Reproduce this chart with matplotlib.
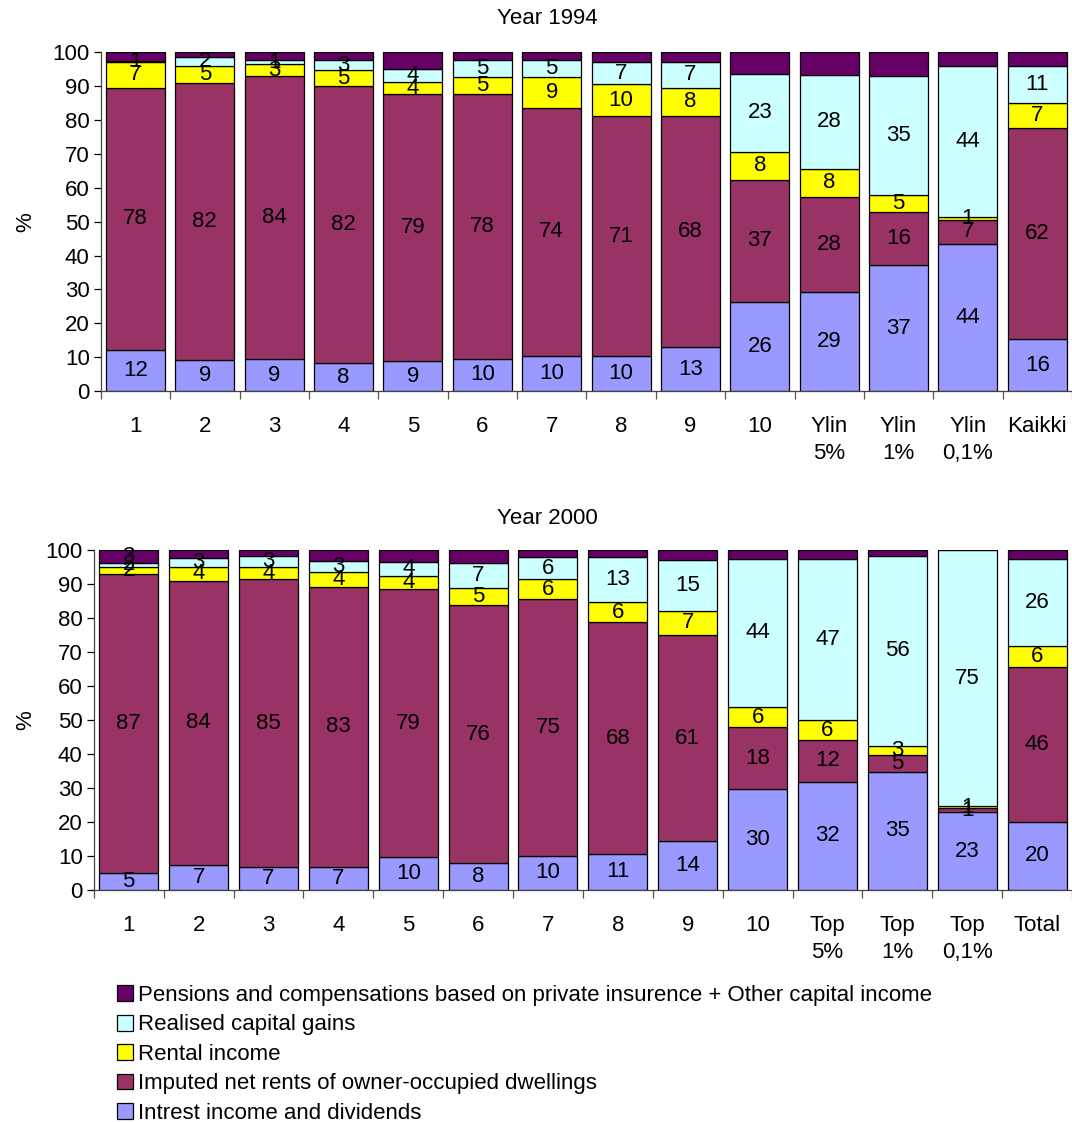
import numpy as np
import matplotlib
matplotlib.use("Agg")
import matplotlib.pyplot as plt
from matplotlib.patches import Patch

plt.rcParams["font.family"] = ["Liberation Sans", "DejaVu Sans"]
plt.rcParams["font.size"] = 16

# ======================
# Data (share of capital income, %)
# ======================
cats_1994 = ["1", "2", "3", "4", "5", "6", "7", "8", "9", "10",
             "Ylin\n5%", "Ylin\n1%", "Ylin\n0,1%", "Kaikki"]
cats_2000 = ["1", "2", "3", "4", "5", "6", "7", "8", "9", "10",
             "Top\n5%", "Top\n1%", "Top\n0,1%", "Total"]

series_names = [
    "Intrest income and dividends",
    "Imputed net rents of owner-occupied dwellings",
    "Rental income",
    "Realised capital gains",
    "Pensions and compensations based on private insurence + Other capital income",
]
colors = ["#9999FF", "#993366", "#FFFF00", "#CCFFFF", "#660066"]

# 1994 segment heights
interest_1994 = [12.2, 9.1, 9.4, 8.2, 8.8, 9.5, 10.3, 10.3, 12.9, 26.2, 29.1, 37.1, 43.5, 15.3]
imputed_1994 = [77.4, 81.7, 83.5, 81.8, 78.8, 78.1, 73.3, 70.9, 68.3, 36.2, 28.3, 15.8, 7.0, 62.4]
rental_1994 = [7.4, 5.2, 3.5, 4.7, 3.7, 5.0, 9.0, 9.3, 8.4, 8.2, 8.2, 5.0, 1.0, 7.3]
gains_1994 = [0.4, 2.6, 1.2, 2.9, 3.9, 5.0, 5.0, 6.6, 7.5, 23.1, 27.8, 35.0, 44.4, 10.9]
pension_1994 = [2.6, 1.4, 2.4, 2.4, 4.8, 2.4, 2.4, 2.9, 2.9, 6.3, 6.6, 7.1, 4.1, 4.1]

# 1994 data labels as printed ("" = no label)
lab_interest_1994 = ["12", "9", "9", "8", "9", "10", "10", "10", "13", "26", "29", "37", "44", "16"]
lab_imputed_1994 = ["78", "82", "84", "82", "79", "78", "74", "71", "68", "37", "28", "16", "7", "62"]
lab_rental_1994 = ["7", "5", "3", "5", "4", "5", "9", "10", "8", "8", "8", "5", "1", "7"]
lab_gains_1994 = ["1", "2", "1", "3", "4", "5", "5", "7", "7", "23", "28", "35", "44", "11"]
lab_pension_1994 = [""] * 14

# 2000 segment heights
interest_2000 = [5.0, 7.4, 6.8, 6.8, 9.7, 7.9, 10.0, 10.6, 14.4, 29.7, 31.8, 34.7, 22.9, 20.0]
imputed_2000 = [87.9, 83.6, 84.6, 82.4, 78.7, 75.9, 75.5, 68.1, 60.6, 18.2, 12.3, 5.0, 1.2, 45.6]
rental_2000 = [2.2, 3.9, 3.5, 4.3, 4.0, 5.1, 5.9, 6.1, 7.1, 5.9, 5.9, 2.7, 0.5, 6.2]
gains_2000 = [1.2, 2.7, 3.4, 3.4, 4.1, 7.2, 6.5, 13.1, 15.0, 43.6, 47.4, 55.8, 75.4, 25.6]
pension_2000 = [3.7, 2.4, 1.7, 3.1, 3.5, 3.9, 2.1, 2.1, 2.9, 2.6, 2.6, 1.8, 0.0, 2.6]

lab_interest_2000 = ["5", "7", "7", "7", "10", "8", "10", "11", "14", "30", "32", "35", "23", "20"]
lab_imputed_2000 = ["87", "84", "85", "83", "79", "76", "75", "68", "61", "18", "12", "5", "1", "46"]
lab_rental_2000 = ["2", "4", "4", "4", "4", "5", "6", "6", "7", "6", "6", "3", "1", "6"]
lab_gains_2000 = ["2", "3", "3", "3", "4", "7", "6", "13", "15", "44", "47", "56", "75", "26"]
lab_pension_2000 = ["3"] + [""] * 13


def stacked_panel(ax, cats, series, labels, width):
    x = np.arange(len(cats))
    bottom = np.zeros(len(cats))
    for vals, labs, col in zip(series, labels, colors):
        vals = np.array(vals)
        ax.bar(x, vals, width, bottom=bottom, color=col,
               edgecolor="black", linewidth=0.9)
        for xi, b, v, t in zip(x, bottom, vals, labs):
            if t:
                ax.text(xi, b + v / 2, t, ha="center", va="center",
                        fontsize=16, color="black")
        bottom += vals

    ax.set_xlim(-0.5, len(cats) - 0.5)
    ax.set_ylim(0, 100)
    ax.set_yticks(np.arange(0, 101, 10))
    ax.set_xticks(x)
    ax.set_xticklabels(cats, linespacing=1.4)
    ax.set_xticks(np.arange(-0.5, len(cats), 1), minor=True)
    ax.tick_params(axis="x", which="major", length=0, pad=18)
    ax.tick_params(axis="x", which="minor", length=6, width=0.9, color="#555555")
    ax.tick_params(axis="y", length=5, width=0.9, pad=3)
    for s in ["top", "right"]:
        ax.spines[s].set_visible(False)
    for s in ["left", "bottom"]:
        ax.spines[s].set_color("#444444")
        ax.spines[s].set_linewidth(0.9)


fig = plt.figure(figsize=(10.72, 11.22), dpi=100)

# ======================
# Panel 1994
# ======================
ax1 = fig.add_axes([0.094, 0.6515, 0.906, 0.3019])
stacked_panel(
    ax1, cats_1994,
    [interest_1994, imputed_1994, rental_1994, gains_1994, pension_1994],
    [lab_interest_1994, lab_imputed_1994, lab_rental_1994, lab_gains_1994, lab_pension_1994],
    0.85,
)
fig.text(0.511, 1 - 18 / 1122, "Year 1994", ha="center", va="center", fontsize=16)
fig.text(0.024, 1 - 222 / 1122, "%", ha="center", va="center", rotation=90, fontsize=16)

# ======================
# Panel 2000
# ======================
ax2 = fig.add_axes([0.0875, 0.2068, 0.9125, 0.303])
stacked_panel(
    ax2, cats_2000,
    [interest_2000, imputed_2000, rental_2000, gains_2000, pension_2000],
    [lab_interest_2000, lab_imputed_2000, lab_rental_2000, lab_gains_2000, lab_pension_2000],
    0.845,
)
fig.text(0.511, 1 - 518 / 1122, "Year 2000", ha="center", va="center", fontsize=16)
fig.text(0.024, 1 - 720 / 1122, "%", ha="center", va="center", rotation=90, fontsize=16)

# ======================
# Legend (top entry = top of stack)
# ======================
handles = [Patch(facecolor=c, edgecolor="black", linewidth=0.9) for c in colors][::-1]
fig.legend(
    handles, series_names[::-1],
    loc="upper left", bbox_to_anchor=(0.109, 1 - 985 / 1122),
    frameon=False, fontsize=16, handlelength=0.72, handleheight=0.72,
    handletextpad=0.25, labelspacing=0.38, borderpad=0, borderaxespad=0,
)

fig.savefig("out.png", dpi=100)
